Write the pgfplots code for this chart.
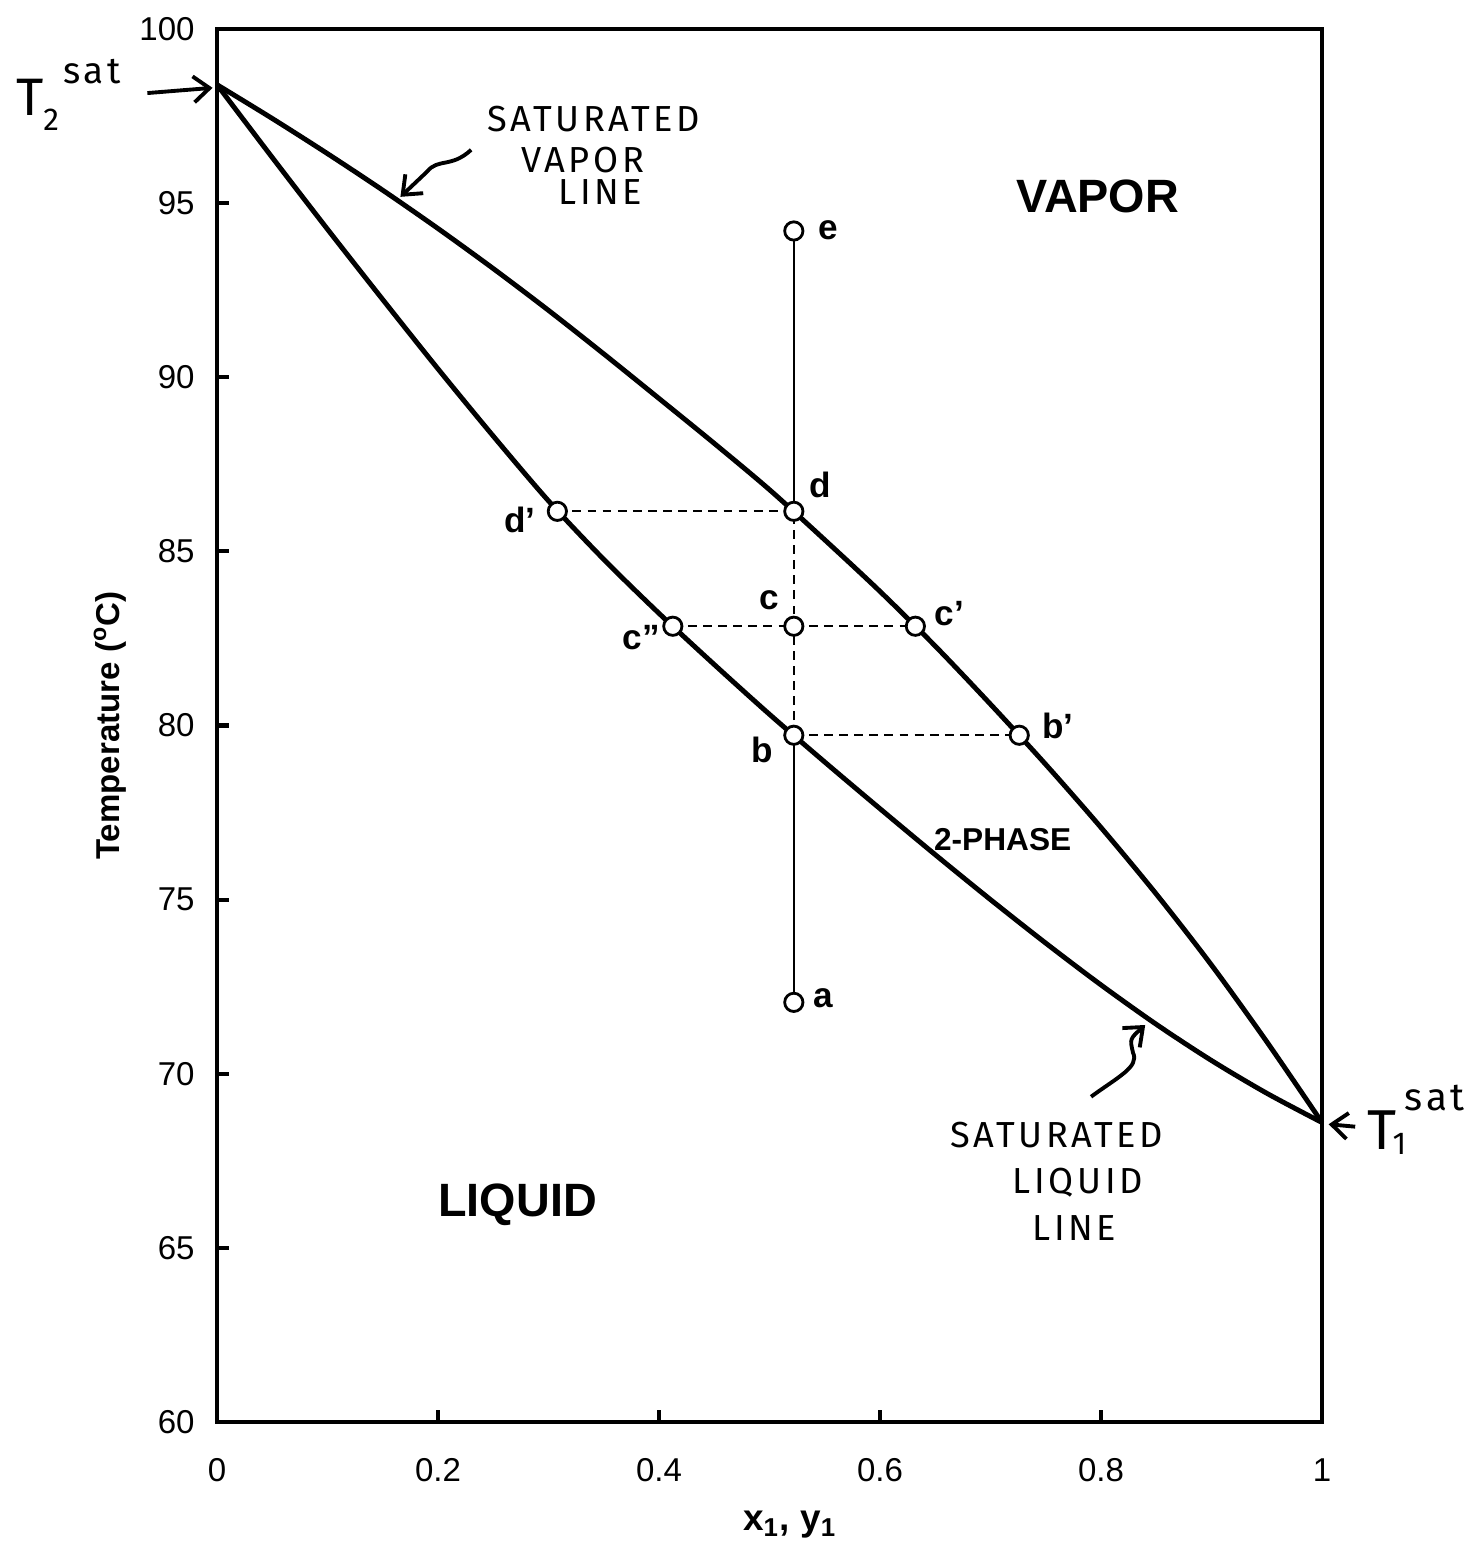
\documentclass[border=0pt]{standalone}
\usepackage{fontspec}
\setmainfont{Liberation Sans}
\newfontfamily\hand[LetterSpace=10]{Fira Sans}
\usepackage{pgfplots}
\pgfplotsset{compat=1.18}
\usetikzlibrary{arrows.meta}

% bubble (saturated liquid) and dew (saturated vapor) curves
\pgfplotstableread{
x T
0    98.40
0.05 96.31
0.10 94.25
0.15 92.23
0.20 90.24
0.25 88.31
0.30 86.45
0.35 84.77
0.40 83.22
0.45 81.75
0.50 80.32
0.55 78.95
0.60 77.61
0.65 76.29
0.70 75.00
0.75 73.75
0.80 72.55
0.85 71.42
0.90 70.38
0.95 69.44
1.00 68.60
}\liquid
\pgfplotstableread{
x T
0    98.40
0.05 97.43
0.10 96.42
0.15 95.37
0.20 94.27
0.25 93.12
0.30 91.92
0.35 90.67
0.40 89.39
0.45 88.10
0.50 86.77
0.55 85.33
0.60 83.85
0.65 82.28
0.70 80.61
0.75 78.88
0.80 77.07
0.85 75.16
0.90 73.12
0.95 70.92
1.00 68.60
}\vapor
\pgfplotstableread{
x T
0.522 72.05
0.522 79.72
0.726 79.72
0.4125 82.85
0.522 82.85
0.632 82.85
0.308 86.15
0.522 86.15
0.522 94.20
}\states

\tikzset{
  curve/.style={line width=1.4pt, black, smooth},
  thinln/.style={line width=0.6pt, black},
  tie/.style={line width=0.6pt, black, dash pattern=on 2.5pt off 1.8pt},
  lbl/.style={font=\bfseries\fontsize{10}{11}\selectfont},
  hw/.style={font=\hand\fontsize{10.3}{11}\selectfont},
  harrow/.style={line width=1.1pt, -{Straight Barb[length=1.6mm,width=2.6mm]}},
}

\begin{document}
\begin{tikzpicture}
\begin{axis}[
  scale only axis, width=11.05cm, height=13.93cm,
  xmin=0, xmax=1, ymin=60, ymax=100,
  xtick={0,0.2,0.4,0.6,0.8,1}, ytick={60,65,70,75,80,85,90,95,100},
  tick align=inside, tick pos=left, major tick length=0.12cm,
  axis line style={line width=1.4pt}, tick style={line width=1.2pt, black},
  /pgf/number format/assume math mode=true,
  ticklabel style={font=\fontsize{9.4}{11}\selectfont},
  xticklabel style={yshift=-0.24cm},
  yticklabel style={xshift=-0.1cm},
  xlabel={x\textsubscript{1}, y\textsubscript{1}},
  ylabel={Temperature (\textsuperscript{o}C)},
  every axis x label/.style={at={(axis description cs:0.5186,-0.0739)}, anchor=center,
    font=\bfseries\fontsize{10.5}{12}\selectfont},
  every axis y label/.style={at={(axis description cs:-0.0968,0.5)}, rotate=90, anchor=center,
    font=\bfseries\fontsize{9.4}{11}\selectfont},
  clip=false,
]
\addplot[curve] table {\liquid};
\addplot[curve] table {\vapor};

% path a -> e and tie lines
\addplot[thinln] coordinates {(0.522,72.05) (0.522,79.72)};
\addplot[tie] coordinates {(0.522,79.72) (0.522,86.15)};
\addplot[thinln] coordinates {(0.522,86.15) (0.522,94.20)};
\addplot[tie] coordinates {(0.308,86.15) (0.522,86.15)};
\addplot[tie] coordinates {(0.4125,82.85) (0.632,82.85)};
\addplot[tie] coordinates {(0.522,79.72) (0.726,79.72)};

\addplot[only marks, mark=*, mark size=2.6pt,
  mark options={fill=white, draw=black, line width=0.8pt}] table {\states};

\node[lbl] at (axis cs:0.553,94.23) {e};
\node[lbl] at (axis cs:0.549,72.18) {a};
\node[lbl] at (axis cs:0.546,86.91) {d};
\node[lbl] at (axis cs:0.274,85.90) {d\symbol{"27}};
\node[lbl] at (axis cs:0.500,83.61) {c};
\node[lbl] at (axis cs:0.663,83.20) {c\symbol{"27}};
\node[lbl] at (axis cs:0.384,82.51) {c\symbol{"22}};
\node[lbl] at (axis cs:0.493,79.30) {b};
\node[lbl] at (axis cs:0.761,79.99) {b\symbol{"27}};

\node[font=\bfseries\fontsize{13.3}{15}\selectfont] at (axis cs:0.797,95.18) {VAPOR};
\node[font=\bfseries\fontsize{13.3}{15}\selectfont] at (axis cs:0.272,66.24) {LIQUID};
\node[font=\bfseries\fontsize{9}{10}\selectfont] at (axis cs:0.711,76.72) {2-PHASE};

% handwritten notes
\node[hw] at (axis cs:0.341,97.42) {SATURATED};
\node[hw] at (axis cs:0.331,96.24) {VAPOR};
\node[hw] at (axis cs:0.347,95.32) {LINE};
\draw[harrow] (axis cs:0.230,96.53) .. controls (axis cs:0.212,96.0) and (axis cs:0.200,96.3) .. (axis cs:0.190,95.9)
  .. controls (axis cs:0.180,95.6) .. (axis cs:0.166,95.18);

\node[hw] at (axis cs:0.760,68.25) {SATURATED};
\node[hw] at (axis cs:0.779,66.87) {LIQUID};
\node[hw] at (axis cs:0.776,65.58) {LINE};
\draw[harrow] (axis cs:0.791,69.34) .. controls (axis cs:0.815,69.9) and (axis cs:0.835,70.2) .. (axis cs:0.829,70.6)
  .. controls (axis cs:0.826,71.0) .. (axis cs:0.840,71.40);

\node[font=\hand\fontsize{15}{16}\selectfont] at (axis cs:-0.169,98.05) {T};
\node[font=\hand\fontsize{9}{10}\selectfont] at (axis cs:-0.150,97.39) {2};
\node[font=\hand\fontsize{10.5}{11}\selectfont] at (axis cs:-0.113,98.77) {sat};
\draw[harrow] (axis cs:-0.063,98.16) -- (axis cs:-0.004,98.31);

\draw[harrow] (axis cs:1.030,68.48) -- (axis cs:1.006,68.55);
\node[font=\hand\fontsize{16}{17}\selectfont] at (axis cs:1.054,68.39) {T};
\node[font=\hand\fontsize{9}{10}\selectfont] at (axis cs:1.070,67.98) {1};
\node[font=\hand\fontsize{11}{12}\selectfont] at (axis cs:1.102,69.31) {sat};
\end{axis}
\pgfresetboundingbox
\path[use as bounding box] ([shift={(-2.17cm,-1.29cm)}]current axis.south west)
  rectangle ([shift={(1.53cm,0.29cm)}]current axis.north east);
\end{tikzpicture}
\end{document}
